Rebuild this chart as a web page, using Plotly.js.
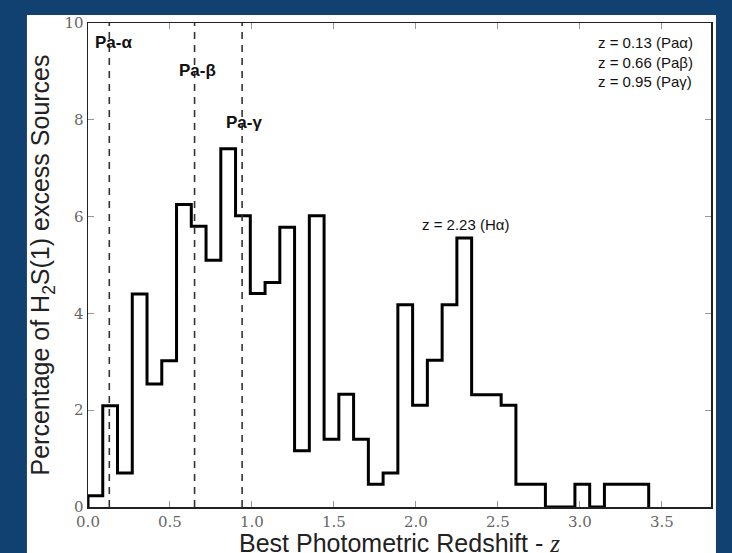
<!DOCTYPE html>
<html>
<head>
<meta charset="utf-8">
<script src="https://cdn.plot.ly/plotly-3.0.1.min.js"></script>
<style>html,body{margin:0;padding:0;background:#114170;}</style>
</head>
<body>
<div id="chart" style="width:732px;height:553px;"></div>
<script>
// Histogram bin edges (redshift z) and percentages
const binEdges = [0.00, 0.09, 0.18, 0.27, 0.36, 0.45, 0.54, 0.63, 0.72, 0.81,
                  0.90, 0.99, 1.08, 1.17, 1.26, 1.35, 1.44, 1.53, 1.62, 1.71,
                  1.80, 1.89, 1.98, 2.07, 2.16, 2.25, 2.34, 2.43, 2.52, 2.61,
                  2.70, 2.79, 2.88, 2.97, 3.06, 3.15, 3.24, 3.33, 3.42];
const percentages = [0.23, 2.09, 0.70, 4.40, 2.54, 3.02, 6.25, 5.80, 5.10, 7.40,
                     6.02, 4.41, 4.64, 5.78, 1.16, 6.02, 1.40, 2.33, 1.40, 0.47,
                     0.70, 4.18, 2.10, 3.03, 4.18, 5.56, 2.32, 2.32, 2.10, 0.47,
                     0.47, 0.00, 0.00, 0.47, 0.00, 0.47, 0.47, 0.47];
// Paschen line redshifts (dashed lines) and their labels
const lineZ = [0.13, 0.65, 0.94];
const lineLabels = ["Pa-α", "Pa-β", "Pa-γ"];
const lineLabelX = [0.03, 0.67, 0.95];
const lineLabelY = [9.59, 9.01, 7.95];
const xTicks = [0.0, 0.5, 1.0, 1.5, 2.0, 2.5, 3.0, 3.5];
const yTicks = [0, 2, 4, 6, 8, 10];

const SERIF = 'DejaVu Serif';
const SANS = 'Liberation Sans';

// step outline
const sx = [binEdges[0]];
const sy = [0];
for (let i = 0; i < percentages.length; i++) { sx.push(binEdges[i]); sy.push(percentages[i]); }
sx.push(binEdges[binEdges.length - 1]); sy.push(0);

const trace = {
  x: sx, y: sy, type: 'scatter', mode: 'lines',
  line: {shape: 'hv', color: '#000', width: 3},
  hoverinfo: 'skip', showlegend: false
};

const shapes = [{
  type: 'rect', xref: 'paper', yref: 'paper', layer: 'below',
  x0: -0.098, x1: 1.008, y0: -0.3, y1: 1.0165,
  fillcolor: '#ffffff', line: {width: 0}
}];
lineZ.forEach(z => shapes.push({
  type: 'line', xref: 'x', yref: 'y', x0: z, x1: z, y0: 0, y1: 10,
  line: {color: '#333', width: 1.6, dash: '7px,6px'}
}));

const annotations = lineLabels.map((t, i) => ({
  x: lineLabelX[i], y: lineLabelY[i], xref: 'x', yref: 'y',
  text: '<b>' + t + '</b>', showarrow: false,
  xanchor: i === 0 ? 'left' : 'center', yanchor: 'middle',
  font: {family: SANS, size: 17, color: '#111'}
}));
annotations.push({
  x: 2.30, y: 5.83, xref: 'x', yref: 'y', text: 'z = 2.23 (Hα)', showarrow: false,
  xanchor: 'center', yanchor: 'middle',
  font: {family: SANS, size: 15, color: '#111'}
});
annotations.push({
  x: 0.975, y: 9.19, xref: 'paper', yref: 'y',
  text: 'z = 0.13 (Paα)<br>z = 0.66 (Paβ)<br>z = 0.95 (Paγ)', showarrow: false,
  xanchor: 'right', yanchor: 'middle', align: 'left',
  font: {family: SANS, size: 15, color: '#111'}
});
// x axis title (as annotation so it can sit low like the reference)
annotations.push({
  x: 0.5, y: -0.042, xref: 'paper', yref: 'paper',
  text: 'Best Photometric Redshift - <i><span style="font-family:Liberation Serif">z</span></i>',
  showarrow: false, xanchor: 'center', yanchor: 'top',
  font: {family: SANS, size: 25, color: '#222'}
});

const layout = {
  width: 732, height: 553,
  margin: {l: 88, r: 21, t: 23, b: 46},
  paper_bgcolor: '#114170', plot_bgcolor: '#ffffff',
  xaxis: {
    range: [0, 3.8], tickvals: xTicks, ticktext: xTicks.map(v => v.toFixed(1)),
    ticks: 'inside', ticklen: 6, tickcolor: '#999', tickwidth: 1,
    showline: true, linecolor: '#222', linewidth: 1.5, mirror: 'ticks',
    showgrid: false, zeroline: false,
    tickfont: {family: SERIF, size: 15, color: '#666'}
  },
  yaxis: {
    range: [0, 10], tickvals: yTicks, ticktext: yTicks.map(v => String(v)),
    ticks: 'inside', ticklen: 6, tickcolor: '#999', tickwidth: 1,
    showline: true, linecolor: '#222', linewidth: 1.5, mirror: 'ticks',
    showgrid: false, zeroline: false,
    tickfont: {family: SERIF, size: 15, color: '#666'},
    title: {text: 'Percentage of H<sub>2</sub>S(1) excess Sources',
            font: {family: SANS, size: 25, color: '#222'}, standoff: 7}
  },
  shapes: shapes,
  annotations: annotations
};

Plotly.newPlot('chart', [trace], layout, {displayModeBar: false, staticPlot: true});
</script>
</body>
</html>
